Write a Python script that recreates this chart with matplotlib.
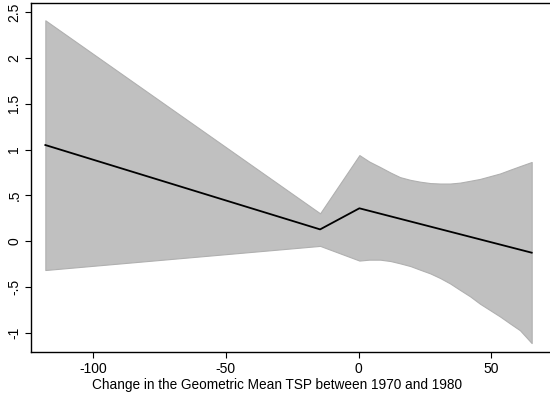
import matplotlib
matplotlib.use("Agg")
import matplotlib.pyplot as plt

# Point estimate (piecewise linear)
line_x = [-118, -14.5, 0.3, 65.2]
line_y = [1.05, 0.13, 0.36, -0.124]

# Confidence band
band_x = [-118, -14.5, 0.3, 4.0, 8.1, 12.0, 15.6, 19.5, 23.2, 27.0, 30.7, 34.5, 38.2, 42.0, 45.7, 49.5, 53.3, 57.0, 60.8, 65.2]
band_hi = [2.41, 0.305, 0.94, 0.87, 0.81, 0.75, 0.70, 0.67, 0.65, 0.635, 0.63, 0.63, 0.64, 0.66, 0.68, 0.71, 0.74, 0.78, 0.82, 0.865]
band_lo = [-0.313, -0.05, -0.21, -0.20, -0.20, -0.215, -0.24, -0.27, -0.31, -0.35, -0.40, -0.46, -0.53, -0.60, -0.68, -0.75, -0.82, -0.895, -0.97, -1.11]

xticks = [-100, -50, 0, 50]
yticks = [-1, -0.5, 0, 0.5, 1, 1.5, 2, 2.5]
ytick_labels = ["-1", "-.5", "0", ".5", "1", "1.5", "2", "2.5"]
xlabel = "Change in the Geometric Mean TSP between 1970 and 1980"

plt.rcParams['font.family'] = ['Liberation Sans', 'DejaVu Sans']
plt.rcParams['axes.unicode_minus'] = False

fig = plt.figure(figsize=(5.5, 3.96), dpi=100)
ax = fig.add_axes([31/550, 1 - 352/396, 1 - 31/550 + 0.01, (352 - 2.7)/396])

ax.fill_between(band_x, band_lo, band_hi, facecolor='#c0c0c0', edgecolor='#b0b0b0', linewidth=0.8)
ax.plot(line_x, line_y, color='black', linewidth=1.3)

ax.set_xlim(-123.4, 72.1 + 0.01*550/2.656)
ax.set_ylim(-1.207, 2.602)
ax.set_xticks(xticks)
ax.set_yticks(yticks)
ax.set_yticklabels(ytick_labels, rotation=90, va='center')
ax.tick_params(axis='both', direction='out', length=4, width=0.8, labelsize=10, pad=3)
ax.set_xlabel(xlabel, fontsize=9.8)
ax.xaxis.set_label_coords(0.469, -0.074)
for s in ax.spines.values():
    s.set_linewidth(1.0)

fig.savefig("out.png", dpi=100)
